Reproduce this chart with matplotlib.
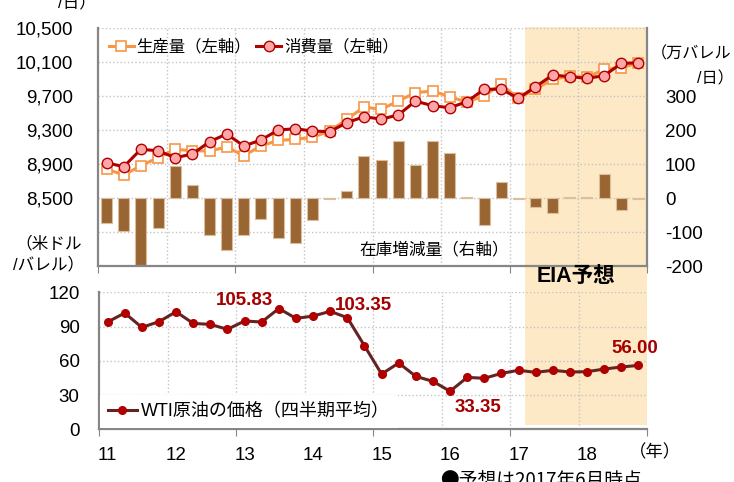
import numpy as np
import matplotlib
matplotlib.use('Agg')
import matplotlib.pyplot as plt
from matplotlib.patches import Rectangle
from matplotlib.transforms import blended_transform_factory
from matplotlib.ticker import FuncFormatter

plt.rcParams['font.family'] = ['Liberation Sans', 'Noto Sans CJK JP']

# データ(2011年1Q～2018年4Q、四半期)
year_labels = ['11', '12', '13', '14', '15', '16', '17', '18']
production = [8841, 8770, 8880, 8974, 9073, 9056, 9053, 9100,
              8998, 9112, 9178, 9190, 9214, 9288, 9425, 9570,
              9543, 9640, 9740, 9758, 9691, 9629, 9700, 9837,
              9672, 9782, 9896, 9935, 9919, 10013, 10032, 10091]
consumption = [8915, 8868, 9073, 9056, 8974, 9017, 9162, 9253,
               9112, 9182, 9300, 9315, 9288, 9280, 9386, 9456,
               9429, 9476, 9640, 9586, 9562, 9633, 9778, 9782,
               9672, 9809, 9947, 9927, 9908, 9939, 10084, 10091]
stock_change = [-73, -96, -197, -88, 95, 39, -110, -152,
                -108, -63, -119, -132, -66, -2, 20, 123,
                111, 167, 97, 169, 131, 4, -80, 47,
                -2, -27, -43, 3, 3, 70, -35, -3]
wti = [94.0, 101.9, 89.3, 94.3, 103.0, 92.8, 91.9, 87.6,
       94.9, 94.0, 105.83, 97.2, 99.2, 103.35, 97.8, 73.2,
       48.4, 58.1, 46.4, 42.0, 33.35, 45.5, 44.7, 49.0,
       51.7, 49.9, 51.7, 50.2, 50.5, 52.8, 54.6, 56.00]
# 数値ラベルを付ける点
label_idx = [10, 13, 20, 31]
label_off = [(-25, 6), (24, 4), (20, -11.5), (-2.5, 12)]

first_year = 2011
x = first_year + 0.125 + np.arange(len(wti)) * 0.25
years = np.arange(first_year, first_year + len(year_labels) + 1)
forecast_start = 2017.22

grid_c = '#c4c4c4'
spine_c = '#868686'
fs = 13.5

fig = plt.figure(figsize=(7.34, 4.82), dpi=100)
ax_top = fig.add_axes([0.1335, 0.4481, 0.7480, 0.4938])
ax_bar = ax_top.twinx()
ax_wti = fig.add_axes([0.1349, 0.1093, 0.7466, 0.2842])

# 上段
ax_top.set_zorder(2)
ax_bar.set_zorder(1)
for a in (ax_top, ax_bar, ax_wti):
    a.set_facecolor('none')
    a.patch.set_visible(False)

ax_bar.bar(x, stock_change, width=0.16, color='#996633', edgecolor='#dcbf9a', linewidth=0.8, zorder=2)
ax_bar.set_ylim(-200, 500)
ax_bar.set_yticks(np.arange(-200, 501, 100))
ax_bar.yaxis.set_major_formatter(FuncFormatter(lambda v, p: '%d' % v if v <= 300 else ''))
ax_bar.grid(axis='y', color=grid_c, linestyle=':', linewidth=1.0)
ax_bar.set_axisbelow(True)
for yr in years[1:]:
    ax_bar.axvline(yr, color=grid_c, linestyle=':', linewidth=1.0, zorder=0.5)
ax_bar.tick_params(axis='y', length=0, pad=13, labelsize=fs)

ax_top.plot(x, production, color='#f79646', linewidth=2.2, marker='s', markersize=7,
            markerfacecolor='white', markeredgecolor='#f79646', markeredgewidth=1.2,
            label='生産量（左軸）')
ax_top.plot(x, consumption, color='#b00000', linewidth=2.2, marker='o', markersize=7.5,
            markerfacecolor='#ffa6a6', markeredgecolor='#b00000', markeredgewidth=1.0,
            label='消費量（左軸）')
ax_top.set_ylim(7700, 10500)
ax_top.set_yticks(np.arange(7700, 10501, 400))
ax_top.yaxis.set_major_formatter(FuncFormatter(lambda v, p: '{:,.0f}'.format(v) if v >= 8500 else ''))
ax_top.tick_params(axis='y', length=0, pad=18, labelsize=fs)
ax_top.set_xlim(years[0], years[-1])
ax_top.set_xticks(years[::2])
ax_top.tick_params(axis='x', direction='out', length=5, color=spine_c, labelbottom=False)

for s in ('top', 'right'):
    ax_top.spines[s].set_visible(False)
for s in ('top', 'left', 'bottom'):
    ax_bar.spines[s].set_visible(False)
ax_top.spines['left'].set_color(spine_c)
ax_top.spines['bottom'].set_color(spine_c)
ax_bar.spines['right'].set_color(spine_c)
for sp in (ax_top.spines['left'], ax_top.spines['bottom'], ax_bar.spines['right']):
    sp.set_linewidth(1.6)

ax_top.legend(loc='upper left', bbox_to_anchor=(0.0, 1.0), ncol=2, frameon=False,
              handlelength=1.55, handletextpad=0.15, columnspacing=0.3, fontsize=11.8,
              borderaxespad=0.25)
ax_top.text(0.477, 0.07, '在庫増減量（右軸）', transform=ax_top.transAxes,
            ha='left', va='center', fontsize=12)

# 下段
ax_wti.plot(x, wti, color='#632523', linewidth=2.2, marker='o', markersize=5.5,
            markerfacecolor='#b00000', markeredgecolor='#b00000',
            label='WTI原油の価格（四半期平均）')
for i, off in zip(label_idx, label_off):
    ax_wti.annotate('%.2f' % wti[i], (x[i], wti[i]), xytext=off, textcoords='offset points',
                    ha='center', va='center', fontsize=13.5, fontweight='bold', color='#a50000')
ax_wti.set_ylim(0, 120)
ax_wti.set_yticks(np.arange(0, 121, 30))
ax_wti.grid(axis='y', color=grid_c, linestyle=':', linewidth=1.0)
ax_wti.set_axisbelow(True)
for yr in years[1:]:
    ax_wti.axvline(yr, color=grid_c, linestyle=':', linewidth=1.0, zorder=0.5)
ax_wti.set_xlim(years[0], years[-1])
ax_wti.set_xticks(years[::2])
ax_wti.set_xticklabels([])
ax_wti.set_xticks(years[:-1] + 0.125, minor=True)
ax_wti.set_xticklabels(year_labels, minor=True)
ax_wti.tick_params(axis='x', which='major', direction='out', length=5, color=spine_c)
ax_wti.tick_params(axis='x', which='minor', length=0, pad=13, labelsize=fs)
ax_wti.tick_params(axis='y', length=0, pad=14, labelsize=fs)
for s in ('top', 'right'):
    ax_wti.spines[s].set_visible(False)
for s in ('left', 'bottom'):
    ax_wti.spines[s].set_color(spine_c)
    ax_wti.spines[s].set_linewidth(1.6)
leg = ax_wti.legend(loc='lower left', bbox_to_anchor=(0.0, 0.0), frameon=True, fancybox=False,
                    handlelength=1.6, handletextpad=0.2, fontsize=13, borderaxespad=0.05,
                    borderpad=0.45)
leg.get_frame().set_facecolor('white')
leg.get_frame().set_edgecolor('none')
leg.get_frame().set_alpha(1)

# EIA予想の網掛け
tr = blended_transform_factory(ax_top.transData, fig.transFigure)
fig.add_artist(Rectangle((forecast_start, 1 - 425 / 482), years[-1] - forecast_start, (425 - 27) / 482,
                         transform=tr, facecolor='#fde9c6', edgecolor='none', zorder=-1))
fig.text(576 / 734, 1 - 276 / 482, 'EIA予想', ha='center', va='center', fontsize=15.5, fontweight='bold')

# 単位など
fig.text(96 / 734, 1 - 10 / 482, '（万バレル\n/日）', ha='right', va='bottom', multialignment='right',
         fontsize=12, linespacing=1.4)
fig.text(651 / 734, 1 - 54 / 482, '（万バレル', ha='left', va='center', fontsize=11.6)
fig.text(697 / 734, 1 - 79 / 482, '/日）', ha='left', va='center', fontsize=11.6)
fig.text(49 / 734, 1 - 254 / 482, '（米ドル\n/バレル）', ha='center', va='center', multialignment='center',
         fontsize=12, linespacing=1.4)
fig.text(655 / 734, 1 - 452 / 482, '（年）', ha='center', va='center', fontsize=12.5)
fig.text(440 / 734, 1 - 470 / 482, '●予想は2017年6月時点', ha='left', va='top', fontsize=13.5,
         family=['Noto Sans CJK JP'])

fig.savefig('out.png', dpi=100)
